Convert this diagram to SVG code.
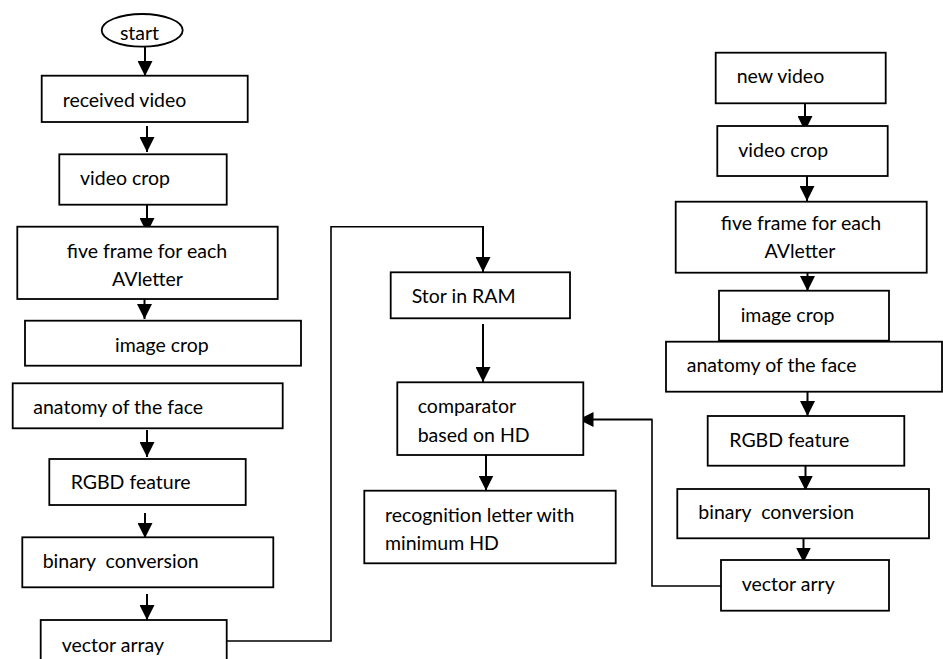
<svg xmlns="http://www.w3.org/2000/svg" width="943" height="659" viewBox="0 0 943 659">
<style>
.box{fill:#fff;stroke:#000;stroke-width:1.8}
.t{font-family:Lato,"Liberation Sans",sans-serif;font-size:19.5px;fill:#000}
.c{text-anchor:middle}
.ln{fill:none;stroke:#000;stroke-width:2}
.lt{fill:none;stroke:#000;stroke-width:1.6}
</style>
<defs>
<marker id="ah" markerWidth="15" markerHeight="15" viewBox="0 0 15 15" refX="15" refY="7.5" orient="auto" markerUnits="userSpaceOnUse">
<path d="M0,0 L15,7.5 L0,15 Z" fill="#000"/>
</marker>
</defs>
<rect width="943" height="659" fill="#fff"/>
<g id="connectors">
<line class="ln" x1="145" y1="47" x2="145" y2="76" marker-end="url(#ah)"/>
<line class="ln" x1="147" y1="126" x2="147" y2="152" marker-end="url(#ah)"/>
<line class="ln" x1="147" y1="205" x2="147" y2="233" marker-end="url(#ah)"/>
<line class="ln" x1="144.5" y1="293" x2="144.5" y2="319" marker-end="url(#ah)"/>
<line class="ln" x1="147" y1="430" x2="147" y2="457" marker-end="url(#ah)"/>
<line class="ln" x1="145" y1="513" x2="145" y2="538" marker-end="url(#ah)"/>
<line class="ln" x1="147" y1="594" x2="147" y2="620" marker-end="url(#ah)"/>
<path class="lt" d="M226.7,641 H331 V226.7 H484"/>
<line class="ln" x1="483" y1="226" x2="483" y2="272" marker-end="url(#ah)"/>
<line class="ln" x1="483" y1="324" x2="483" y2="382" marker-end="url(#ah)"/>
<line class="ln" x1="486" y1="455" x2="486" y2="490.5" marker-end="url(#ah)"/>
<path class="lt" d="M721,586 H652 V419.5"/>
<line class="ln" x1="652.5" y1="419.5" x2="578.5" y2="419.5" marker-end="url(#ah)"/>
<line class="ln" x1="805" y1="103" x2="805" y2="131" marker-end="url(#ah)"/>
<line class="ln" x1="807" y1="176" x2="807" y2="201" marker-end="url(#ah)"/>
<line class="ln" x1="807.5" y1="270" x2="807.5" y2="291" marker-end="url(#ah)"/>
<line class="ln" x1="807.5" y1="392" x2="807.5" y2="416" marker-end="url(#ah)"/>
<line class="ln" x1="805.5" y1="466" x2="805.5" y2="490.5" marker-end="url(#ah)"/>
<line class="ln" x1="803.5" y1="538.5" x2="803.5" y2="562.5" marker-end="url(#ah)"/>
</g>
<g id="start"><ellipse class="box" cx="142.2" cy="30.3" rx="40.5" ry="16.3"/><text class="t c" x="139.5" y="39.5">start</text></g>
<g id="received-video"><rect class="box" x="41.7" y="75.7" width="206" height="46.3"/><text class="t" x="62.7" y="106.5">received video</text></g>
<g id="video-crop"><rect class="box" x="59.3" y="154.3" width="167.4" height="50.4"/><text class="t" x="80" y="185">video crop</text></g>
<g id="five-frame"><rect class="box" x="17.3" y="226.7" width="260.4" height="72.3"/><text class="t c" x="147" y="258">five frame for each</text><text class="t c" x="147.5" y="286">AVletter</text></g>
<g id="image-crop"><rect class="box" x="25" y="320.7" width="276" height="45"/><text class="t" x="115" y="351.5">image crop</text></g>
<g id="anatomy"><rect class="box" x="12.7" y="383.3" width="270" height="45"/><text class="t" x="33.3" y="414">anatomy of the face</text></g>
<g id="rgbd"><rect class="box" x="49.3" y="459" width="196.4" height="46"/><text class="t" x="70.7" y="489.3">RGBD feature</text></g>
<g id="binary"><rect class="box" x="22.3" y="537.3" width="251" height="50"/><text class="t" x="42.7" y="568.3" xml:space="preserve">binary  conversion</text></g>
<g id="vector-array"><rect class="box" x="40.7" y="620" width="186" height="60"/><text class="t" x="61.7" y="651.5">vector array</text></g>
<g id="stor-ram"><rect class="box" x="390.7" y="272.3" width="179.3" height="46"/><text class="t" x="411.7" y="303.3">Stor in RAM</text></g>
<g id="comparator"><rect class="box" x="397.3" y="382.3" width="186" height="72.7"/><text class="t" x="417.7" y="413.3">comparator</text><text class="t" x="417.7" y="441.7">based on HD</text></g>
<g id="recognition"><rect class="box" x="364.3" y="490.7" width="251.4" height="72.6"/><text class="t" x="385" y="521.7">recognition letter with</text><text class="t" x="385" y="550">minimum HD</text></g>
<g id="new-video"><rect class="box" x="715.7" y="52.7" width="170" height="50.6"/><text class="t" x="736.7" y="83.3">new video</text></g>
<g id="video-crop-2"><rect class="box" x="717.3" y="126" width="170.4" height="50"/><text class="t" x="738.3" y="156.7">video crop</text></g>
<g id="five-frame-2"><rect class="box" x="675.7" y="201.7" width="251" height="71"/><text class="t c" x="801" y="230">five frame for each</text><text class="t c" x="800" y="258.3">AVletter</text></g>
<g id="image-crop-2"><rect class="box" x="719" y="290.7" width="170" height="50"/><text class="t" x="740.7" y="321.7">image crop</text></g>
<g id="anatomy-2"><rect class="box" x="666" y="341.7" width="276" height="50"/><text class="t" x="686.7" y="371.7">anatomy of the face</text></g>
<g id="rgbd-2"><rect class="box" x="707.7" y="416" width="196.6" height="49.7"/><text class="t" x="729.3" y="446.7">RGBD feature</text></g>
<g id="binary-2"><rect class="box" x="677.3" y="489" width="251.7" height="49.3"/><text class="t" x="698.3" y="519.3" xml:space="preserve">binary  conversion</text></g>
<g id="vector-arry"><rect class="box" x="721" y="560" width="168" height="50.7"/><text class="t" x="741.7" y="590.7">vector arry</text></g>
</svg>
